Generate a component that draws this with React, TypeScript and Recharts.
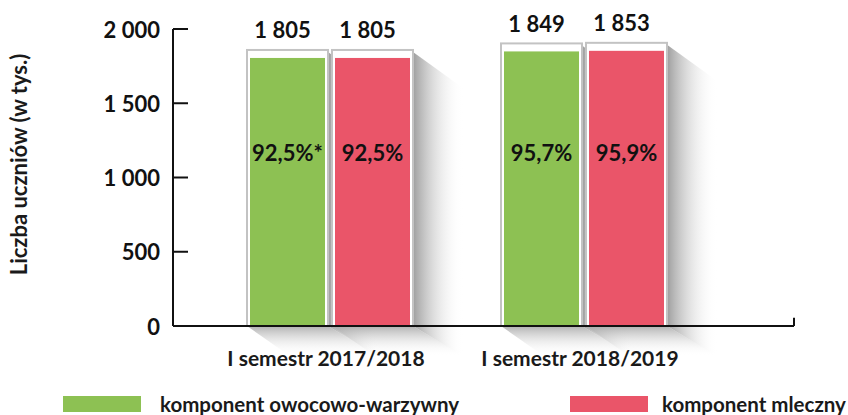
import React from 'react';
import {
  BarChart,
  Bar,
  XAxis,
  YAxis,
  ReferenceLine,
  LabelList,
} from 'recharts';

const categories = ['I semestr 2017/2018', 'I semestr 2018/2019'];
const fruitVeg = [1805, 1849];
const milk = [1805, 1853];
const fruitVegShare = ['92,5%*', '95,7%'];
const milkShare = ['92,5%', '95,9%'];
const yTicks = [0, 500, 1000, 1500, 2000];
const axisMarks = [1, 2, 3];

const GREEN = '#8dc153';
const RED = '#ea5569';
const FONT = 'Lato, "Open Sans", sans-serif';

const data = categories.map((category, i) => ({
  category,
  fruitVeg: fruitVeg[i],
  milk: milk[i],
  fruitVegShare: fruitVegShare[i],
  milkShare: milkShare[i],
}));

const fmt = (v: number) => {
  const s = String(v);
  return s.length > 3 ? s.slice(0, s.length - 3) + ' ' + s.slice(-3) : s;
};

// framed bar with the soft drop shadow to the lower right
const FramedBar = (props: any) => {
  const { x, y, width, height, fill } = props;
  if (width == null || height == null) return null;
  const base = y + height;
  const top = y - 8;
  const xl = x + 1;
  const xr = x + width - 1;
  const side = [
    [xr, top + 2],
    [xr + 50, top + 38],
    [xr + 50, base + 30],
    [xr, base],
  ];
  const bottom = [
    [xl, base],
    [xr, base],
    [xr + 50, base + 30],
    [xl + 40, base + 28],
  ];
  const pts = (p: number[][]) => p.map((q) => q.join(',')).join(' ');
  return (
    <g>
      <polygon points={pts(side)} fill="url(#shadowSide)" />
      <polygon points={pts(bottom)} fill="url(#shadowBottom)" />
      <rect x={xl} y={top} width={xr - xl} height={base - top} fill="#fff" stroke="#c3c3c3" strokeWidth={2} />
      <rect x={x + 4} y={y} width={width - 8} height={height} fill={fill} />
    </g>
  );
};

const valueLabel = (props: any) => {
  const { x, y, width, value } = props;
  return (
    <text
      x={x + width / 2 - 5}
      y={y - 28}
      textAnchor="middle"
      dominantBaseline="central"
      fontFamily={FONT}
      fontWeight={700}
      fontSize={22}
      fill="#111"
    >
      {fmt(value)}
    </text>
  );
};

const shareLabel = (props: any) => {
  const { x, y, width, height, value } = props;
  return (
    <text
      x={x + width / 2}
      y={y + height - 174}
      textAnchor="middle"
      dominantBaseline="central"
      fontFamily={FONT}
      fontWeight={700}
      fontSize={22}
      fill="#111"
    >
      {value}
    </text>
  );
};

const YTick = (props: any) => {
  const { x, y, payload } = props;
  return (
    <g>
      <line x1={x} x2={x + 15} y1={y} y2={y} stroke="#111" strokeWidth={2} />
      <text
        x={x - 13}
        y={y}
        textAnchor="end"
        dominantBaseline="central"
        fontFamily={FONT}
        fontWeight={700}
        fontSize={22}
        fill="#111"
      >
        {fmt(payload.value)}
      </text>
    </g>
  );
};

const XTick = (props: any) => {
  const { x, y, payload } = props;
  return (
    <text
      x={x - 4}
      y={y + 23}
      textAnchor="middle"
      dominantBaseline="central"
      fontFamily={FONT}
      fontWeight={700}
      fontSize={21}
      fill="#1a1a1a"
    >
      {payload.value}
    </text>
  );
};

const YLabel = (props: any) => {
  const vb = props.viewBox || { x: 0, y: 0, height: 0 };
  const cx = vb.x + 18;
  const cy = vb.y + vb.height / 2 - 13;
  return (
    <text
      transform={`translate(${cx},${cy}) rotate(-90)`}
      textAnchor="middle"
      dominantBaseline="central"
      fontFamily={FONT}
      fontWeight={700}
      fontSize={22}
      fill="#1a1a1a"
    >
      Liczba uczniów (w tys.)
    </text>
  );
};

const legendItems = [
  { label: 'komponent owocowo-warzywny', color: GREEN, left: 63, gap: 19 },
  { label: 'komponent mleczny', color: RED, left: 570, gap: 14 },
];

export default function App() {
  return (
    <div style={{ position: 'absolute', left: 0, top: 0, width: 848, height: 415, background: '#fff', overflow: 'hidden' }}>
      <BarChart
        width={848}
        height={415}
        data={data}
        margin={{ top: 29, right: 54, left: 0, bottom: 59 }}
        barSize={83}
        barGap={2}
      >
        <defs>
          <linearGradient id="shadowSide" x1="0" y1="0" x2="1" y2="0">
            <stop offset="0%" stopColor="#999" stopOpacity={0.95} />
            <stop offset="100%" stopColor="#fff" stopOpacity={0} />
          </linearGradient>
          <linearGradient id="shadowBottom" x1="0" y1="0" x2="0" y2="1">
            <stop offset="0%" stopColor="#a8a8a8" stopOpacity={0.9} />
            <stop offset="100%" stopColor="#fff" stopOpacity={0} />
          </linearGradient>
        </defs>
        <Bar dataKey="fruitVeg" fill={GREEN} shape={FramedBar} isAnimationActive={false}>
          <LabelList dataKey="fruitVeg" content={valueLabel} />
          <LabelList dataKey="fruitVegShare" content={shareLabel} />
        </Bar>
        <Bar dataKey="milk" fill={RED} shape={FramedBar} isAnimationActive={false}>
          <LabelList dataKey="milk" content={valueLabel} />
          <LabelList dataKey="milkShare" content={shareLabel} />
        </Bar>
        <XAxis
          dataKey="category"
          height={30}
          padding={{ left: 30, right: 83 }}
          axisLine={{ stroke: '#111', strokeWidth: 2 }}
          tickLine={false}
          tick={<XTick />}
          interval={0}
        />
        <XAxis xAxisId="marks" type="number" domain={[0, 3]} allowDataOverflow hide />
        <YAxis
          width={173}
          domain={[0, 2000]}
          ticks={yTicks}
          interval={0}
          axisLine={{ stroke: '#111', strokeWidth: 2 }}
          tickLine={false}
          tickSize={0}
          tickMargin={0}
          tick={<YTick />}
          label={<YLabel />}
        />
        {axisMarks.map((m) => (
          <ReferenceLine
            key={m}
            xAxisId="marks"
            segment={[{ x: m, y: 0 }, { x: m, y: 55 }]}
            stroke="#111"
            strokeWidth={2}
            ifOverflow="visible"
          />
        ))}
      </BarChart>
      {legendItems.map((it) => (
        <div key={it.label} style={{ position: 'absolute', left: it.left, top: 396, display: 'flex', alignItems: 'center' }}>
          <div style={{ width: 78, height: 16, background: it.color }} />
          <span
            style={{
              marginLeft: it.gap,
              fontFamily: FONT,
              fontWeight: 700,
              fontSize: 20.5,
              color: '#1a1a1a',
              lineHeight: '15px',
              whiteSpace: 'nowrap',
            }}
          >
            {it.label}
          </span>
        </div>
      ))}
    </div>
  );
}
